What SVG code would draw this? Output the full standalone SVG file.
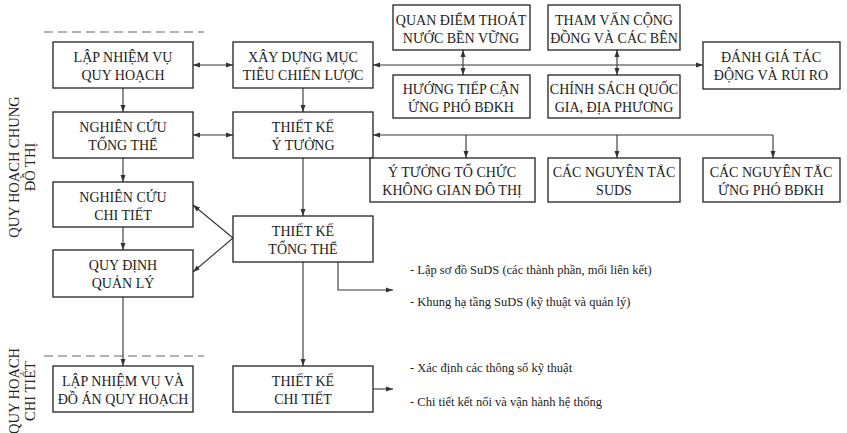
<svg xmlns="http://www.w3.org/2000/svg" width="847" height="433" viewBox="0 0 847 433">
<style>
.box{fill:#fff;stroke:#222;stroke-width:1.3}
.t{font-family:'Liberation Serif','DejaVu Serif',serif;font-size:14px;fill:#222;text-anchor:middle}
.s{font-family:'Liberation Serif','DejaVu Serif',serif;font-size:12.5px;fill:#222}
.lbl{font-family:'Liberation Serif','DejaVu Serif',serif;font-size:14.5px;fill:#222;text-anchor:middle}
.c{fill:none;stroke:#333;stroke-width:1.1}
.dash{stroke:#999;stroke-width:1.5;stroke-dasharray:9 5;fill:none}
</style>
<defs>
<marker id="ar" markerUnits="userSpaceOnUse" markerWidth="7" markerHeight="6" refX="7" refY="3" orient="auto-start-reverse">
<path d="M0,0.5 L7,3 L0,5.5 z" fill="#333"/>
</marker>
</defs>
<rect width="847" height="433" fill="#fff"/>

<line class="dash" x1="44" y1="32" x2="204" y2="32"/>
<line class="dash" x1="44" y1="356" x2="204" y2="356"/>

<text class="lbl" transform="translate(19,167) rotate(-90)">QUY HOẠCH CHUNG</text>
<text class="lbl" transform="translate(35,167) rotate(-90)">ĐÔ THỊ</text>
<text class="lbl" transform="translate(19,391) rotate(-90)">QUY HOẠCH</text>
<text class="lbl" transform="translate(35,391) rotate(-90)">CHI TIẾT</text>

<g id="connectors">
<line class="c" x1="123" y1="88" x2="123" y2="112" marker-end="url(#ar)"/>
<line class="c" x1="123" y1="158" x2="123" y2="182" marker-end="url(#ar)"/>
<line class="c" x1="123" y1="227" x2="123" y2="250" marker-end="url(#ar)"/>
<line class="c" x1="123" y1="297" x2="123" y2="366" marker-end="url(#ar)"/>
<line class="c" x1="303" y1="88" x2="303" y2="112" marker-end="url(#ar)"/>
<line class="c" x1="303" y1="158" x2="303" y2="216" marker-end="url(#ar)"/>
<line class="c" x1="303" y1="262" x2="303" y2="366" marker-end="url(#ar)"/>
<line class="c" x1="193" y1="65" x2="233" y2="65" marker-start="url(#ar)" marker-end="url(#ar)"/>
<line class="c" x1="193" y1="135" x2="233" y2="135" marker-start="url(#ar)" marker-end="url(#ar)"/>
<line class="c" x1="373" y1="65" x2="703" y2="65" marker-start="url(#ar)" marker-end="url(#ar)"/>
<line class="c" x1="463" y1="50" x2="463" y2="75" marker-start="url(#ar)" marker-end="url(#ar)"/>
<line class="c" x1="617" y1="50" x2="617" y2="75" marker-start="url(#ar)" marker-end="url(#ar)"/>
<line class="c" x1="373" y1="135" x2="773" y2="135" marker-start="url(#ar)"/>
<line class="c" x1="466" y1="135" x2="466" y2="158" marker-end="url(#ar)"/>
<line class="c" x1="617" y1="135" x2="617" y2="158" marker-end="url(#ar)"/>
<line class="c" x1="773" y1="135" x2="773" y2="158" marker-end="url(#ar)"/>
<line class="c" x1="233" y1="238" x2="193" y2="205" marker-end="url(#ar)"/>
<line class="c" x1="233" y1="238" x2="193" y2="272" marker-end="url(#ar)"/>
<path class="c" d="M338,262 V290 H393" marker-end="url(#ar)"/>
<line class="c" x1="373" y1="389" x2="393" y2="389" marker-end="url(#ar)"/>
</g>

<g id="lap-nhiem-vu"><rect class="box" x="53" y="42" width="140" height="46"/><text class="t" x="123" y="62">LẬP NHIỆM VỤ</text><text class="t" x="123" y="80">QUY HOẠCH</text></g>
<g id="nghien-cuu-tong-the"><rect class="box" x="53" y="112" width="140" height="46"/><text class="t" x="123" y="132">NGHIÊN CỨU</text><text class="t" x="123" y="150">TỔNG THỂ</text></g>
<g id="nghien-cuu-chi-tiet"><rect class="box" x="53" y="182" width="140" height="45"/><text class="t" x="123" y="202">NGHIÊN CỨU</text><text class="t" x="123" y="220">CHI TIẾT</text></g>
<g id="quy-dinh-quan-ly"><rect class="box" x="53" y="250" width="140" height="47"/><text class="t" x="123" y="270">QUY ĐỊNH</text><text class="t" x="123" y="288">QUẢN LÝ</text></g>
<g id="lap-nhiem-vu-do-an"><rect class="box" x="53" y="366" width="140" height="46"/><text class="t" x="123" y="386">LẬP NHIỆM VỤ VÀ</text><text class="t" x="123" y="404">ĐỒ ÁN QUY HOẠCH</text></g>

<g id="xay-dung-muc-tieu"><rect class="box" x="233" y="42" width="140" height="46"/><text class="t" x="303" y="62">XÂY DỰNG MỤC</text><text class="t" x="303" y="80">TIÊU CHIẾN LƯỢC</text></g>
<g id="thiet-ke-y-tuong"><rect class="box" x="233" y="112" width="140" height="46"/><text class="t" x="303" y="132">THIẾT KẾ</text><text class="t" x="303" y="150">Ý TƯỞNG</text></g>
<g id="thiet-ke-tong-the"><rect class="box" x="233" y="216" width="140" height="46"/><text class="t" x="303" y="236">THIẾT KẾ</text><text class="t" x="303" y="254">TỔNG THỂ</text></g>
<g id="thiet-ke-chi-tiet"><rect class="box" x="233" y="366" width="140" height="46"/><text class="t" x="303" y="386">THIẾT KẾ</text><text class="t" x="303" y="404">CHI TIẾT</text></g>

<g id="quan-diem"><rect class="box" x="393" y="5" width="137" height="45"/><text class="t" x="461" y="25">QUAN ĐIỂM THOÁT</text><text class="t" x="461" y="43">NƯỚC BỀN VỮNG</text></g>
<g id="tham-van"><rect class="box" x="548" y="5" width="132" height="45"/><text class="t" x="614" y="25">THAM VẤN CỘNG</text><text class="t" x="614" y="43">ĐỒNG VÀ CÁC BÊN</text></g>
<g id="huong-tiep-can"><rect class="box" x="393" y="75" width="137" height="43"/><text class="t" x="461" y="94">HƯỚNG TIẾP CẬN</text><text class="t" x="461" y="112">ỨNG PHÓ BĐKH</text></g>
<g id="chinh-sach"><rect class="box" x="548" y="75" width="132" height="43"/><text class="t" x="614" y="94">CHÍNH SÁCH QUỐC</text><text class="t" x="614" y="112">GIA, ĐỊA PHƯƠNG</text></g>
<g id="danh-gia"><rect class="box" x="703" y="42" width="137" height="47"/><text class="t" x="771" y="62">ĐÁNH GIÁ TÁC</text><text class="t" x="771" y="80">ĐỘNG VÀ RỦI RO</text></g>

<g id="y-tuong-to-chuc"><rect class="box" x="370" y="158" width="165" height="44"/><text class="t" x="452" y="177">Ý TƯỞNG TỔ CHỨC</text><text class="t" x="452" y="195">KHÔNG GIAN ĐÔ THỊ</text></g>
<g id="nguyen-tac-suds"><rect class="box" x="548" y="158" width="132" height="44"/><text class="t" x="614" y="177">CÁC NGUYÊN TẮC</text><text class="t" x="614" y="195">SUDS</text></g>
<g id="nguyen-tac-ung-pho"><rect class="box" x="703" y="158" width="137" height="44"/><text class="t" x="771" y="177">CÁC NGUYÊN TẮC</text><text class="t" x="771" y="195">ỨNG PHÓ BĐKH</text></g>

<g id="notes">
<text class="s" x="410" y="274">- Lập sơ đồ SuDS (các thành phần, mối liên kết)</text>
<text class="s" x="410" y="306">- Khung hạ tầng SuDS (kỹ thuật và quản lý)</text>
<text class="s" x="410" y="372">- Xác định các thông số kỹ thuật</text>
<text class="s" x="410" y="406">- Chi tiết kết nối và vận hành hệ thống</text>
</g>
</svg>
